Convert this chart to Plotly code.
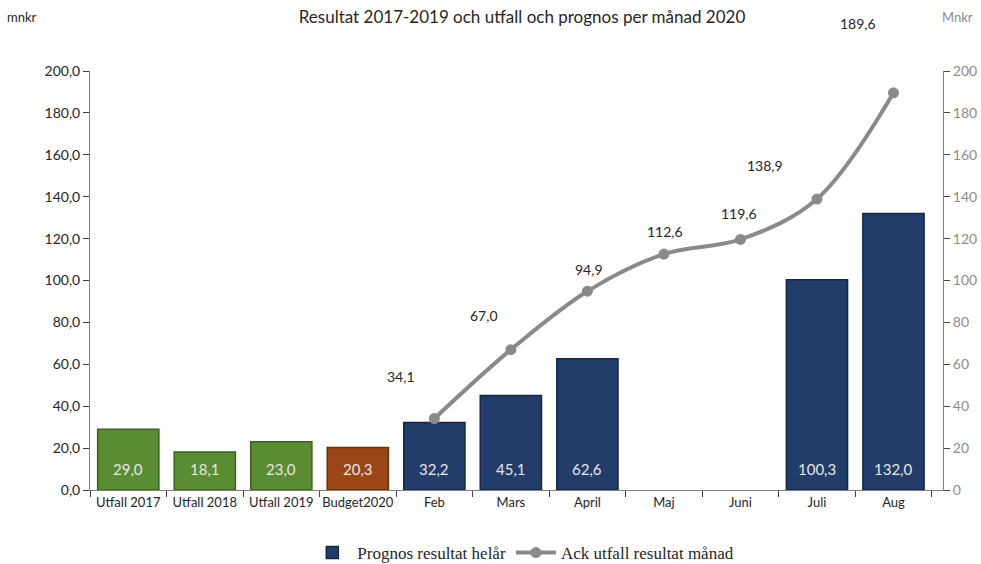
import plotly.graph_objects as go

# ── Data ──────────────────────────────────────────────────────────────────────
categories = ["Utfall 2017", "Utfall 2018", "Utfall 2019", "Budget2020",
              "Feb", "Mars", "April", "Maj", "Juni", "Juli", "Aug"]

utfall_values = [29.0, 18.1, 23.0, None, None, None, None, None, None, None, None]
budget_values = [None, None, None, 20.3, None, None, None, None, None, None, None]
prognos_values = [None, None, None, None, 32.2, 45.1, 62.6, None, None, 100.3, 132.0]

ack_months = ["Feb", "Mars", "April", "Maj", "Juni", "Juli", "Aug"]
ack_values = [34.1, 67.0, 94.9, 112.6, 119.6, 138.9, 189.6]

# label offsets (px) for the line labels, as placed in the original
ack_label_shift = [(-33, 42), (-27, 34), (2, 22), (1, 23), (-1, 26), (-52, 34), (-35, 69)]

COLORS = {
    "green": "#5A8C33",
    "green_edge": "#3B6220",
    "brown": "#9A4616",
    "brown_edge": "#6B2E0C",
    "navy": "#233D6B",
    "navy_edge": "#14264A",
    "line": "#8A8A8A",
    "text": "#262626",
    "muted": "#8C8C8C",
}

# plot area in px (from the reference)
L, R, T, B = 90, 943, 71, 490
W, H = 981, 564


def fmt(v):
    return f"{v:.1f}".replace(".", ",")


fig = go.Figure()

for vals, fill, edge, name, show in [
    (utfall_values, COLORS["green"], COLORS["green_edge"], "Utfall", False),
    (budget_values, COLORS["brown"], COLORS["brown_edge"], "Budget", False),
    (prognos_values, COLORS["navy"], COLORS["navy_edge"], "Prognos resultat helår", True),
]:
    fig.add_trace(go.Bar(
        x=categories, y=vals, name=name, showlegend=show,
        marker=dict(color=fill, line=dict(color=edge, width=1.5)),
        width=0.8,
    ))

fig.add_trace(go.Scatter(
    x=ack_months, y=ack_values, name="Ack utfall resultat månad",
    mode="lines+markers", yaxis="y2",
    line=dict(color=COLORS["line"], width=4, shape="spline", smoothing=1),
    marker=dict(color=COLORS["line"], size=11),
))

annotations = []
# bar labels, near the bottom of each bar
for cat, a, b, c in zip(categories, utfall_values, budget_values, prognos_values):
    v = next((x for x in (a, b, c) if x is not None), None)
    if v is None:
        continue
    annotations.append(dict(
        x=cat, y=0, xref="x", yref="y", text=fmt(v), showarrow=False,
        yshift=21, font=dict(family="Lato", size=15, color="#E6E6E6"),
    ))

# line labels
for m, v, (dx, dy) in zip(ack_months, ack_values, ack_label_shift):
    annotations.append(dict(
        x=m, y=v, xref="x", yref="y2", text=fmt(v), showarrow=False,
        xshift=dx, yshift=dy, font=dict(family="Lato", size=14, color=COLORS["text"]),
    ))

# corner unit labels (paper coords relative to the plot area)
for text, px, color in [("mnkr", 22, COLORS["text"]), ("Mnkr", 957, COLORS["muted"])]:
    annotations.append(dict(
        x=(px - L) / (R - L), y=1 + (T - 17) / (B - T), xref="paper", yref="paper",
        text=text, showarrow=False, xanchor="center", yanchor="middle",
        font=dict(family="Lato", size=13, color=color),
    ))

axis_common = dict(
    showline=True, linecolor="#808080", linewidth=1,
    ticks="outside", ticklen=6, tickcolor="#404040",
    showgrid=False, zeroline=False, automargin=False,
)

fig.update_layout(
    width=W, height=H,
    paper_bgcolor="white", plot_bgcolor="white",
    margin=dict(l=L, r=W - R, t=T, b=H - B, autoexpand=False),
    barmode="overlay",
    separators=",.",
    font=dict(family="Lato", size=14, color=COLORS["text"]),
    title=dict(
        text="Resultat 2017-2019 och utfall och prognos per månad 2020",
        x=522 / W, xanchor="center", y=1 - 17 / H, yanchor="middle",
        font=dict(family="Lato", size=17, color=COLORS["text"]),
    ),
    xaxis=dict(
        **axis_common, tickson="boundaries", tickangle=0,
        tickfont=dict(size=13, color=COLORS["text"]),
    ),
    yaxis=dict(
        **axis_common, range=[0, 200], dtick=20, tickformat=".1f",
        tickfont=dict(size=14, color=COLORS["text"]),
    ),
    yaxis2=dict(
        **axis_common, range=[0, 200], dtick=20, tickformat="d",
        overlaying="y", side="right",
        tickfont=dict(size=14, color=COLORS["muted"]),
    ),
    legend=dict(
        orientation="h", x=0.508, xanchor="center",
        yref="container", y=1 - 553 / H, yanchor="middle",
        font=dict(family="Liberation Serif", size=17, color=COLORS["text"]),
        itemwidth=40, traceorder="normal",
    ),
    annotations=annotations,
)

# pin the figure to the page's top-left corner so the page is exactly the window
pin_js = (
    "document.body.style.margin='0';"
    "var gd=document.getElementById('{plot_id}');"
    "gd.style.position='fixed';gd.style.top='0';gd.style.left='0';"
)
fig.write_html("out.html", config={"displayModeBar": False}, post_script=pin_js)
